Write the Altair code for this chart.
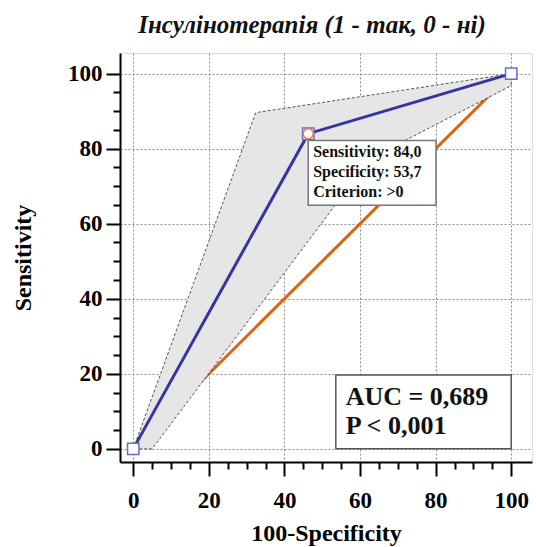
import altair as alt
import pandas as pd

# ---- data ----
roc_fpr = [0.0, 46.3, 100.0]        # 100-Specificity
roc_sens = [0.0, 84.0, 100.0]       # Sensitivity

band_x = [0.0, 32.4, 100.0, 100.0, 62.7, 5.0, 0.0]   # confidence band vertices
band_y = [0.0, 89.6, 100.0, 96.8, 77.4, 0.0, 0.0]

diag_x = [0.0, 100.0]
diag_y = [0.0, 100.0]

cut_fpr = 46.3
cut_sens = 84.0
cut_spec = 53.7
criterion = ">0"
auc_text = "AUC = 0,689"
p_text = "P < 0,001"
title_text = "Інсулінотерапія (1 - так, 0 - ні)"

FONT = "Liberation Serif"
DOMAIN = [-3.5, 105.5]
major = "datum.value % 20 === 0"


def make_axis(title, is_x):
    kw = dict(
        values=list(range(0, 101, 5)),
        labelExpr=f"{major} ? datum.label : ''",
        tickSize={"condition": {"test": major, "value": 14}, "value": 7},
        gridOpacity={"condition": {"test": major, "value": 1}, "value": 0},
        grid=True, gridColor="#8a8a8a", gridDash=[2, 2], gridWidth=1,
        domainColor="black", domainWidth=2,
        tickColor="black", tickWidth=2,
        labelFont=FONT, labelFontSize=23, labelFontWeight="bold", labelColor="black",
        labelOverlap=False, labelFlush=False,
        title=title, titleFont=FONT, titleFontSize=24, titleFontWeight="bold",
        titleColor="black", titleBaseline="alphabetic",
    )
    if is_x:
        kw.update(labelPadding=13, titleY=78)
    else:
        kw.update(labelPadding=4, titleX=-90)
    return alt.Axis(**kw)


xscale = alt.Scale(domain=DOMAIN, nice=False, zero=False)
yscale = alt.Scale(domain=DOMAIN, nice=False, zero=False)
xaxis = make_axis("100-Specificity", True)
yaxis = make_axis("Sensitivity", False)


def X(field=None, datum=None):
    if datum is not None:
        return alt.X(datum=datum, type="quantitative", scale=xscale, axis=xaxis)
    return alt.X(field, type="quantitative", scale=xscale, axis=xaxis)


def Y(field=None, datum=None):
    if datum is not None:
        return alt.Y(datum=datum, type="quantitative", scale=yscale, axis=yaxis)
    return alt.Y(field, type="quantitative", scale=yscale, axis=yaxis)


roc_df = pd.DataFrame({"x": roc_fpr, "y": roc_sens})
band_df = pd.DataFrame({"x": band_x, "y": band_y, "o": list(range(len(band_x)))})
diag_df = pd.DataFrame({"x": diag_x, "y": diag_y})
cut_df = pd.DataFrame({"x": [cut_fpr], "y": [cut_sens]})

diag = alt.Chart(diag_df).mark_line(color="#e0620d", strokeWidth=3).encode(x=X("x"), y=Y("y"))

band = alt.Chart(band_df).mark_line(
    fill="#e6e6e6", stroke="#555555", strokeWidth=1, strokeDash=[3, 2]
).encode(x=X("x"), y=Y("y"), order="o:Q")

roc = alt.Chart(roc_df).mark_line(color="#3434a2", strokeWidth=3).encode(x=X("x"), y=Y("y"))

squares = alt.Chart(roc_df).mark_point(
    shape="square", size=130, filled=True, fill="white", stroke="#6a6ad2", strokeWidth=1.5, opacity=1
).encode(x=X("x"), y=Y("y"))

circle = alt.Chart(cut_df).mark_point(
    shape="circle", size=100, filled=True, fill="white", stroke="#f07a3a", strokeWidth=1.5, opacity=1
).encode(x=X("x"), y=Y("y"))

# tooltip-like annotation box next to the cut-off point
tip_box = alt.Chart(cut_df).mark_rect(fill="white", stroke="#777777", strokeWidth=1.5).encode(
    x=X(datum=cut_fpr), x2=alt.X2(datum=cut_fpr + 33.8),
    y=Y(datum=cut_sens - 1.8), y2=alt.Y2(datum=cut_sens - 19.1),
)
tip_lines = [
    f"Sensitivity: {cut_sens:.1f}".replace(".", ","),
    f"Specificity: {cut_spec:.1f}".replace(".", ","),
    f"Criterion: {criterion}",
]
tip_texts = [
    alt.Chart(cut_df).mark_text(
        text=t, align="left", baseline="alphabetic", font=FONT, fontSize=16,
        fontWeight="bold", color="#111111"
    ).encode(x=X(datum=cut_fpr + 1.3), y=Y(datum=cut_sens - 6.3 - 5.3 * i))
    for i, t in enumerate(tip_lines)
]

# AUC box
auc_box = alt.Chart(cut_df).mark_rect(fill="white", stroke="#555555", strokeWidth=1.5).encode(
    x=X(datum=53.6), x2=alt.X2(datum=100), y=Y(datum=0), y2=alt.Y2(datum=19.7)
)
auc_t = [
    alt.Chart(cut_df).mark_text(
        text=t, align="left", baseline="alphabetic", font=FONT, fontSize=26,
        fontWeight="bold", color="#111111"
    ).encode(x=X(datum=56.2), y=Y(datum=yy))
    for t, yy in [(auc_text, 11.7), (p_text, 4.0)]
]

chart = alt.layer(
    diag, band, roc, squares, circle, tip_box, *tip_texts, auc_box, *auc_t
).properties(
    width=412, height=409,
    autosize="none",
    padding={"left": 120, "top": 53, "right": 4, "bottom": 85},
    title=alt.TitleParams(
        title_text, font=FONT, fontSize=25, fontWeight="bold", fontStyle="italic",
        color="#111111", anchor="middle", frame="group", dx=-14, offset=15
    ),
).configure_view(stroke=None).configure(background="white")

chart.save("out.html", embed_options={"renderer": "svg", "actions": False})
